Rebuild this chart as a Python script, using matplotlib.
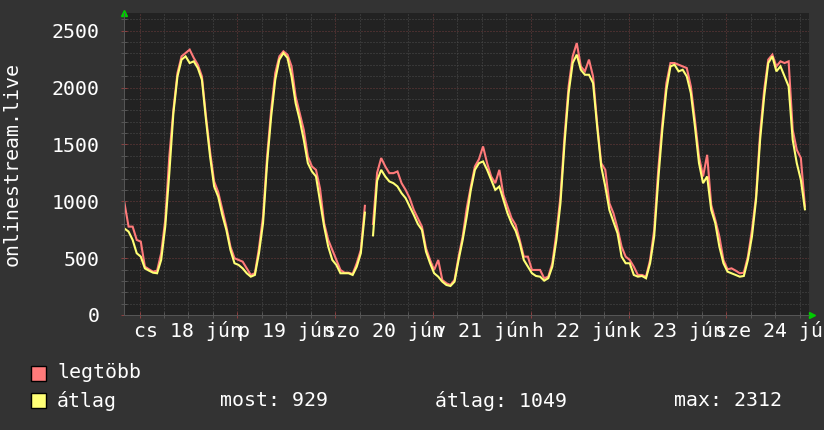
import numpy as np
import matplotlib
matplotlib.use('Agg')
import matplotlib.pyplot as plt
from matplotlib.patches import Rectangle
from matplotlib.ticker import MultipleLocator, FixedLocator
import matplotlib.transforms as mtransforms

plt.rcParams['font.family'] = ['DejaVu Sans Mono']

# hourly samples, hour 0 = start of the graph (about 20:20, one day before cs 18)
atlag = [760, 733, 660, 543, 513, 410, 390, 372, 367, 484, 777, 1247, 1775, 2098, 2245, 2274,
         2215, 2230, 2171, 2068, 1716, 1394, 1130, 1040, 880, 748, 572, 455, 440, 410, 367, 337,
         352, 543, 807, 1335, 1746, 2068, 2245, 2303, 2260, 2098, 1863, 1716, 1540, 1335, 1262, 1218,
         1000, 777, 601, 484, 440, 367, 367, 367, 352, 425, 543, 900, np.nan, 700, 1180, 1276,
         1218, 1174, 1159, 1130, 1071, 1027, 954, 880, 800, 748, 557, 455, 367, 337, 293, 264,
         255, 293, 484, 660, 866, 1100, 1276, 1335, 1350, 1276, 1188, 1100, 1130, 1012, 895, 807,
         740, 631, 484, 425, 367, 343, 337, 302, 323, 425, 660, 983, 1511, 1951, 2215, 2289,
         2156, 2112, 2112, 2039, 1658, 1306, 1130, 924, 820, 719, 513, 455, 455, 352, 337, 343,
         323, 455, 690, 1188, 1628, 1980, 2186, 2200, 2142, 2156, 2098, 1951, 1658, 1335, 1159, 1218,
         924, 807, 601, 455, 381, 367, 352, 337, 343, 484, 690, 1012, 1540, 1922, 2215, 2274,
         2142, 2186, 2098, 2010, 1540, 1335, 1188, 929]

legtobb = [983, 777, 777, 660, 645, 425, 402, 381, 390, 543, 836, 1394, 1804, 2127, 2274, 2303,
           2333, 2260, 2200, 2098, 1746, 1438, 1174, 1080, 930, 777, 601, 499, 484, 469, 410, 352,
           367, 587, 866, 1394, 1804, 2127, 2274, 2318, 2289, 2186, 1922, 1775, 1628, 1394, 1306, 1276,
           1110, 807, 660, 572, 484, 396, 372, 372, 361, 455, 572, 960, np.nan, 800, 1250, 1380,
           1306, 1247, 1247, 1262, 1159, 1100, 1027, 924, 851, 777, 587, 484, 396, 484, 308, 279,
           264, 308, 513, 690, 939, 1130, 1306, 1370, 1482, 1335, 1218, 1159, 1276, 1056, 954, 851,
           792, 660, 513, 513, 396, 396, 396, 323, 337, 455, 719, 1042, 1570, 2010, 2274, 2391,
           2186, 2142, 2245, 2098, 1687, 1335, 1276, 983, 895, 763, 601, 513, 484, 425, 352, 352,
           337, 484, 748, 1276, 1687, 2039, 2215, 2215, 2200, 2186, 2171, 2010, 1716, 1394, 1218, 1408,
           968, 836, 690, 484, 402, 410, 390, 367, 372, 513, 748, 1042, 1599, 1980, 2245, 2289,
           2186, 2230, 2215, 2230, 1628, 1452, 1380, 954]

day_labels = ['cs 18 jún', 'p 19 jún', 'szo 20 jún', 'v 21 jún', 'h 22 jún', 'k 23 jún', 'sze 24 jún']
first_midnight = 3.7  # hours after graph start
graph_hours = 168
y_top = 2655

W, H = 824, 430
fig = plt.figure(figsize=(W / 100, H / 100), dpi=100, facecolor='#333333')
ax = fig.add_axes([124.5 / W, 1 - 315 / H, (809 - 124.5) / W, (315 - 13) / H])
ax.set_facecolor('#222222')

hours = np.arange(len(atlag))
ax.plot(hours, legtobb, color='#ff7a7a', lw=1.5, solid_joinstyle='miter')
ax.plot(hours, atlag, color='#ffff75', lw=1.5, solid_joinstyle='miter')

ax.set_xlim(0, graph_hours)
ax.set_ylim(0, y_top)

midnights = first_midnight + 24 * np.arange(7)
quarters = np.arange(first_midnight, graph_hours, 6)
ax.xaxis.set_major_locator(FixedLocator(midnights))
ax.xaxis.set_minor_locator(FixedLocator(quarters))
ax.yaxis.set_major_locator(MultipleLocator(500))
ax.yaxis.set_minor_locator(MultipleLocator(100))

ax.grid(which='minor', color='#4c4c4c', lw=0.72, ls=(0, (1, 2)))
ax.grid(which='major', color='#6e3c3c', lw=0.72, ls=(0, (1, 2)))
ax.set_axisbelow(True)

ax.set_xticklabels([])
ax.tick_params(axis='both', which='both', direction='inout', length=4, width=0.72)
ax.tick_params(axis='both', which='minor', color='#555555')
ax.tick_params(axis='both', which='major', color='#8a4040')
ax.tick_params(axis='y', which='major', labelcolor='white', labelsize=14.3, pad=16)

for side in ['top', 'right']:
    ax.spines[side].set_visible(False)
for side in ['bottom', 'left']:
    ax.spines[side].set_color('#555555')
    ax.spines[side].set_linewidth(0.72)

# day labels centred at noon
trans = mtransforms.blended_transform_factory(ax.transData, fig.transFigure)
for i, lab in enumerate(day_labels):
    ax.text(midnights[i] + 12, 1 - 331 / H, lab, transform=trans, ha='center', va='center',
            color='white', fontsize=14.3, clip_on=False)

# green arrows at the ends of the axes
ax.plot([0], [1.0], marker='^', color='#00cc00', ms=5, transform=ax.transAxes, clip_on=False)
ax.plot([1.005], [0], marker='>', color='#00cc00', ms=5, transform=ax.transAxes, clip_on=False)

fig.text(12 / W, 1 - 164 / H, 'onlinestream.live', rotation=90, ha='center', va='center',
         color='white', fontsize=14.3)

# legend
fig.patches.append(Rectangle((31 / W, 1 - 381 / H), 15 / W, 15 / H, transform=fig.transFigure,
                             facecolor='#ff7a7a', edgecolor='black', lw=1))
fig.patches.append(Rectangle((31 / W, 1 - 408 / H), 15 / W, 15 / H, transform=fig.transFigure,
                             facecolor='#ffff75', edgecolor='black', lw=1))
fig.text(57 / W, 1 - 373 / H, 'legtöbb', ha='left', va='center', color='white', fontsize=14.3)
fig.text(57 / W, 1 - 401 / H, 'átlag', ha='left', va='center', color='white', fontsize=14.3)

vals = np.array(atlag, dtype=float)
most = int(round(vals[~np.isnan(vals)][-1]))
fig.text(220 / W, 1 - 401 / H, 'most: %d' % most, ha='left', va='center', color='white', fontsize=14.3)
fig.text(435 / W, 1 - 401 / H, 'átlag: 1049', ha='left', va='center', color='white', fontsize=14.3)
fig.text(674 / W, 1 - 401 / H, 'max: 2312', ha='left', va='center', color='white', fontsize=14.3)

fig.savefig('out.png', dpi=100, facecolor=fig.get_facecolor())
